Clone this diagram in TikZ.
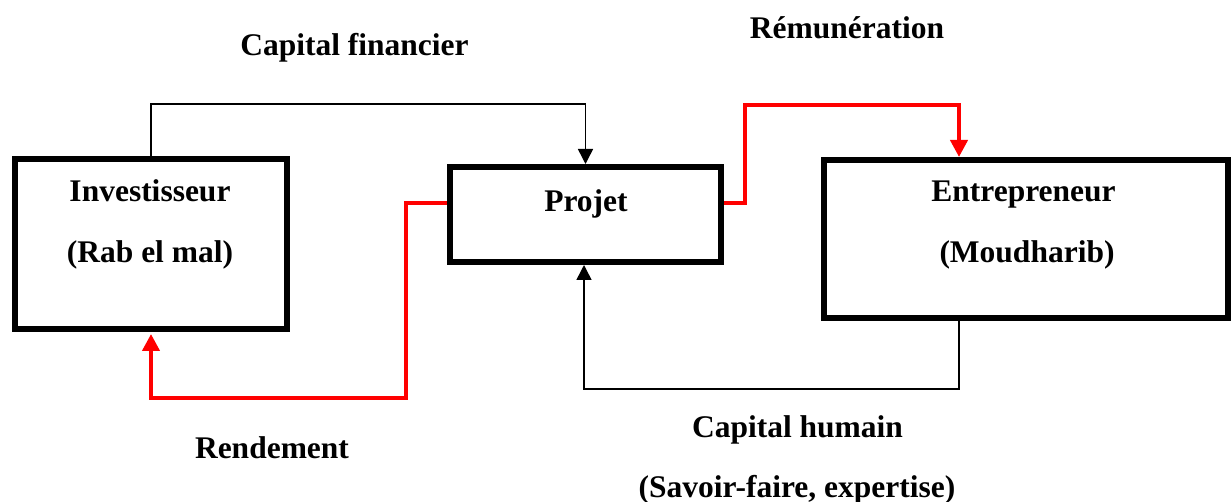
\documentclass[tikz,border=0pt]{standalone}
\usepackage{fontspec}
\setmainfont{Liberation Serif}
\usetikzlibrary{arrows.meta}
\begin{document}
\begin{tikzpicture}[x=1pt,y=-1pt,
  box/.style={draw=black, line width=6pt, minimum width=#1, inner sep=0pt},
  txt/.style={font=\fontsize{31.5}{36}\selectfont\bfseries, anchor=base, inner sep=0pt},
  thinarrow/.style={draw=black, line width=1.5pt, -{Triangle[width=15pt,length=15pt]}},
  redarrow/.style={draw=red, line width=4pt, -{Triangle[width=17pt,length=17pt]}}]
\useasboundingbox[fill=white] (0,0) rectangle (1232,502);
% boxes
\node[box=272pt, minimum height=170pt] (inv) at (151,244) {};
\node[box=271pt, minimum height=95pt] (proj) at (585.5,214.5) {};
\node[box=404pt, minimum height=158pt] (ent) at (1026,239) {};
% box texts
\node[txt] (invA) at (150,202) {Investisseur};
\node[txt] (invB) at (150,263) {(Rab el mal)};
\node[txt] (projA) at (586,212) {Projet};
\node[txt] (entA) at (1023.5,202) {Entrepreneur};
\node[txt] (entB) at (1027,263) {(Moudharib)};
% labels
\node[txt] (lcf) at (354.5,56) {Capital financier};
\node[txt] (lrem) at (847,39) {Rémunération};
\node[txt] (lrend) at (272,459) {Rendement};
\node[txt] (lch) at (797.5,438) {Capital humain};
\node[txt] (lsf) at (797,497) {(Savoir-faire, expertise)};
% coordinates
\coordinate (cfTop) at (151,104);
\coordinate (remTop) at (745,105);
\coordinate (chBot) at (959,389);
\coordinate (rendBot) at (406,398);
% connectors
\draw[thinarrow] (inv.north) -- (cfTop) -| (proj.north);
\draw[redarrow, shorten >=2pt] (proj.west |- 0,203) -- (rendBot |- 0,203) -- (rendBot) -| (inv.south);
\draw[redarrow] (proj.east |- 0,203) -- (remTop |- 0,203) -- (remTop) -| (ent.north -| chBot);
\draw[thinarrow] (ent.south -| chBot) -- (chBot) -| (proj.south -| 584,0);
\end{tikzpicture}
\end{document}
